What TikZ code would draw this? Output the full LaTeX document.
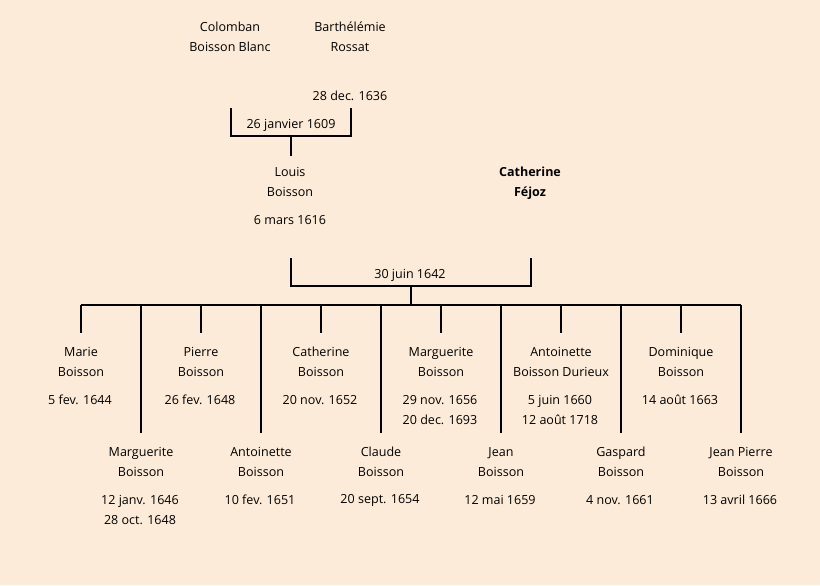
\documentclass[tikz,border=0pt]{standalone}
\usepackage{fontspec}
\setmainfont{Open Sans}
\definecolor{bg}{RGB}{252,235,216}
\begin{document}
\begin{tikzpicture}[x=0.75pt,y=-0.75pt,
  lbl/.style={inner sep=0pt,font=\fontsize{9.4pt}{15pt}\selectfont,align=center},
  bld/.style={lbl,font=\fontsize{9.4pt}{15pt}\selectfont\bfseries},
  ln/.style={line width=1.5pt}]
\fill[bg] (0,0) rectangle (820,585);
\useasboundingbox (0,0) rectangle (820,585);
% grandparents
\node[lbl] (colomban) at (230,37) {Colomban\\Boisson Blanc};
\node[lbl] (barth) at (350,37) {Barthélémie\\Rossat};
\node[lbl] (d1636) at (350,96) {28 dec. 1636};
\coordinate (gpL) at (231,108);
\coordinate (gpR) at (351,108);
\coordinate (gpM) at (291,136);
\coordinate (lTop) at (291,156);
\node[lbl] (m1609) at (291,125) {26 janvier 1609};
\draw[ln] (gpL) |- (gpM) -| (gpR);
\draw[ln] (gpM) -- (lTop);
% parents
\node[lbl] (louis) at (290,182) {Louis\\Boisson};
\node[lbl] (d1616) at (290,220) {6 mars 1616};
\node[bld] (cath) at (530,183) {Catherine\\Féjoz};
\coordinate (pL) at (291,258);
\coordinate (pR) at (531,258);
\coordinate (pM) at (411,286);
\coordinate (bar) at (411,305);
\node[lbl] (m1642) at (410,275) {30 juin 1642};
\draw[ln] (pL) |- (pM) -| (pR);
\draw[ln] (pM) -- (bar);
\draw[ln] (81,305) coordinate (barL) -- (741,305) coordinate (barR);
% children top row
\foreach \x/\n/\t in {81/c1/{Marie\\Boisson},201/c3/{Pierre\\Boisson},321/c5/{Catherine\\Boisson},441/c7/{Marguerite\\Boisson},561/c9/{Antoinette\\Boisson Durieux},681/c11/{Dominique\\Boisson}}{
  \node[lbl] (\n) at (\x,362) {\t};
  \draw[ln] (\x,305) -- (\x,333);
}
\foreach \x/\n/\t in {141/c2/{Marguerite\\Boisson},261/c4/{Antoinette\\Boisson},381/c6/{Claude\\Boisson},501/c8/{Jean\\Boisson},621/c10/{Gaspard\\Boisson},741/c12/{Jean Pierre\\Boisson}}{
  \node[lbl] (\n) at (\x,462) {\t};
  \draw[ln] (\x,305) -- (\x,433);
}
% dates top
\node[lbl] (d1) at (80,400) {5 fev. 1644};
\node[lbl] (d3) at (200,400) {26 fev. 1648};
\node[lbl] (d5) at (320,400) {20 nov. 1652};
\node[lbl] (d7) at (440,410) {29 nov. 1656\\20 dec. 1693};
\node[lbl] (d9) at (560,410) {5 juin 1660\\12 août 1718};
\node[lbl] (d11) at (680,400) {14 août 1663};
% dates bottom
\node[lbl] (d2) at (140,510) {12 janv. 1646\\28 oct. 1648};
\node[lbl] (d4) at (260,500) {10 fev. 1651};
\node[lbl] (d6) at (380,500) {20 sept. 1654};
\node[lbl] (d8) at (500,500) {12 mai 1659};
\node[lbl] (d10) at (620,500) {4 nov. 1661};
\node[lbl] (d12) at (740,500) {13 avril 1666};
\end{tikzpicture}
\end{document}
